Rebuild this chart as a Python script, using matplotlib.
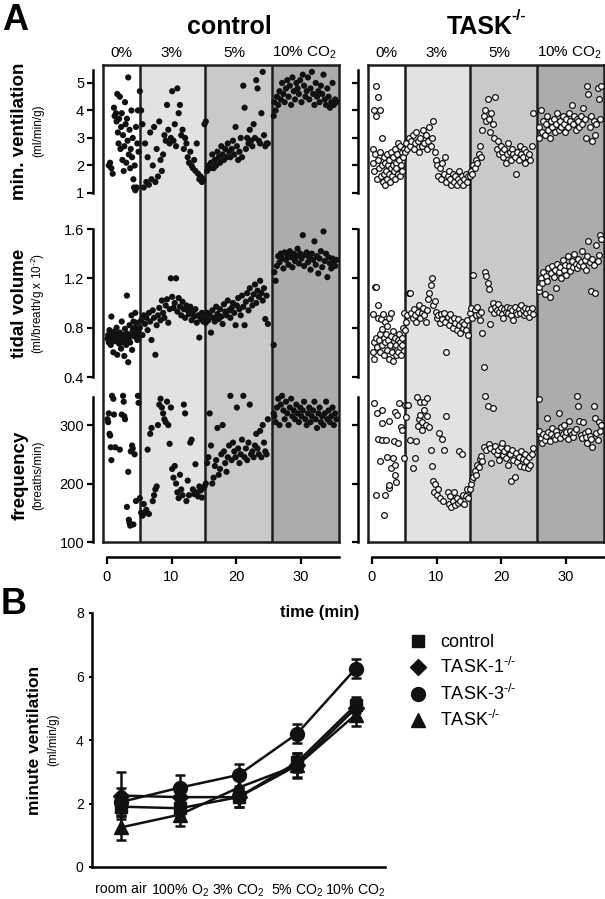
import numpy as np
import matplotlib
matplotlib.use("Agg")
import matplotlib.pyplot as plt
from matplotlib.lines import Line2D

plt.rcParams['font.family'] = ['Liberation Sans', 'DejaVu Sans']
plt.rcParams['mathtext.fontset'] = 'custom'
plt.rcParams['mathtext.rm'] = 'Liberation Sans'
plt.rcParams['mathtext.it'] = 'Liberation Sans:italic'
plt.rcParams['mathtext.bf'] = 'Liberation Sans:bold'

# -----------------------------
# panel A data
# -----------------------------
phase_edges = [5.1, 15.2, 25.6]
phase_labels = ['0%', '3%', '5%', '10% CO$_2$']
phase_label_t = [2.3, 10.0, 19.7, 30.6]
time_ticks = [0, 10, 20, 30]

t_p0 = [0.1, 0.2, 0.3, 0.4, 0.5, 0.6, 0.7, 0.8, 0.9, 1.0, 1.1, 1.2, 1.3, 1.4, 1.5, 1.6, 1.7, 1.8, 1.9, 2.0,
        2.1, 2.2, 2.3, 2.4, 2.5, 2.6, 2.7, 2.8, 2.9, 3.0, 3.1, 3.2, 3.3, 3.4, 3.5, 3.6, 3.7, 3.8, 3.9, 4.0,
        4.1, 4.2, 4.3, 4.4, 4.5, 4.6, 4.7, 4.8, 4.9]
t_p3 = [5.1, 5.3, 5.5, 5.7, 5.9, 6.1, 6.3, 6.5, 6.7, 6.9, 7.1, 7.3, 7.5, 7.7, 7.9, 8.1, 8.3, 8.5, 8.7, 8.9,
        9.1, 9.3, 9.5, 9.7, 9.9, 10.1, 10.3, 10.5, 10.7, 10.9, 11.1, 11.3, 11.5, 11.7, 11.9, 12.1, 12.3, 12.5,
        12.7, 12.9, 13.1, 13.3, 13.5, 13.7, 13.9, 14.1, 14.3, 14.5, 14.7, 14.9]
t_p5 = [15.1, 15.3, 15.5, 15.7, 15.9, 16.1, 16.3, 16.5, 16.7, 16.9, 17.1, 17.3, 17.5, 17.7, 17.9, 18.1, 18.3,
        18.5, 18.7, 18.9, 19.1, 19.3, 19.5, 19.7, 19.9, 20.1, 20.3, 20.5, 20.7, 20.9, 21.1, 21.3, 21.5, 21.7,
        21.9, 22.1, 22.3, 22.5, 22.7, 22.9, 23.1, 23.3, 23.5, 23.7, 23.9, 24.1, 24.3, 24.5, 24.7, 24.9]
t_p10 = [25.8, 25.9, 26.1, 26.3, 26.5, 26.7, 26.9, 27.1, 27.3, 27.5, 27.7, 27.9, 28.1, 28.3, 28.5, 28.7, 28.9,
         29.1, 29.3, 29.5, 29.7, 29.9, 30.1, 30.3, 30.5, 30.7, 30.9, 31.1, 31.3, 31.5, 31.7, 31.9, 32.1, 32.3,
         32.5, 32.7, 32.9, 33.1, 33.3, 33.5, 33.7, 33.9, 34.1, 34.3, 34.5, 34.7, 34.9, 35.1, 35.3, 35.5]

# control: minute ventilation
ctrl_mv0_t = [0.3, 0.5, 0.7, 0.9, 1.1, 1.2, 1.4, 1.5, 1.6, 1.7, 1.8, 1.9, 2.0, 2.1, 2.2, 2.3, 2.4, 2.5, 2.6, 2.7,
              2.8, 2.9, 3.0, 3.1, 3.2, 3.3, 3.4, 3.5, 3.6, 3.7, 3.8, 3.9, 4.0, 4.1, 4.2, 4.3, 4.4, 4.5, 4.6, 4.7,
              4.8, 4.9]
ctrl_mv0 = [2.0, 2.1, 1.9, 1.7, 4.1, 3.8, 3.9, 3.6, 4.6, 3.2, 2.8, 3.7, 4.5, 2.6, 3.4, 3.9, 2.2, 3.1, 1.8, 2.7,
            4.3, 3.5, 2.1, 3.7, 2.9, 5.2, 2.4, 3.3, 1.9, 2.6, 4.0, 2.3, 3.0, 1.5, 1.2, 2.0, 1.1, 3.4, 1.2, 2.8,
            4.0, 2.5]
ctrl_mv3 = [4.7, 4.0, 3.5, 1.2, 2.8, 1.4, 2.3, 1.3, 3.2, 1.5, 2.0, 3.4, 1.4, 2.6, 1.6, 3.6, 2.2, 1.8, 2.4, 3.1,
            2.9, 4.2, 3.3, 2.8, 3.0, 4.7, 2.9, 3.5, 2.7, 4.8, 3.9, 4.2, 3.1, 3.3, 2.6, 3.0, 2.8, 2.3, 2.1, 2.5,
            2.0, 1.9, 2.2, 1.8, 2.8, 1.7, 1.5, 1.6, 1.4, 1.5]
ctrl_mv5 = [3.5, 3.6, 1.8, 2.0, 1.9, 2.1, 2.4, 1.9, 2.2, 2.0, 2.5, 2.3, 2.1, 2.7, 2.4, 2.2, 2.6, 2.3, 2.8, 2.5,
            2.3, 2.6, 2.9, 2.4, 3.4, 2.7, 2.2, 2.5, 3.0, 2.3, 4.9, 4.1, 2.6, 3.0, 2.8, 3.3, 2.9, 2.7, 3.5, 3.0,
            5.1, 4.8, 2.9, 2.8, 3.9, 5.4, 3.1, 2.7, 2.8, 2.8]
ctrl_mv10 = [3.8, 4.3, 4.0, 4.5, 4.2, 4.7, 4.4, 5.0, 4.6, 4.3, 4.8, 5.1, 4.5, 4.9, 4.2, 5.2, 4.7, 4.4, 5.0, 4.8,
             4.6, 5.1, 4.3, 5.3, 4.9, 4.5, 4.7, 5.2, 4.4, 4.8, 5.4, 4.6, 4.2, 5.0, 4.5, 4.7, 4.3, 4.9, 4.6, 5.3,
             4.4, 4.2, 4.8, 4.5, 4.1, 4.3, 5.0, 4.2, 4.4, 4.3]

# control: tidal volume
ctrl_tv0 = [0.71, 0.74, 0.68, 0.78, 0.72, 0.66, 0.89, 0.75, 0.70, 0.60, 0.73, 0.77, 0.69, 0.72, 0.80, 0.58, 0.71,
            0.74, 0.67, 0.76, 0.70, 0.63, 0.85, 0.72, 0.68, 0.74, 0.57, 0.79, 0.71, 0.66, 1.06, 0.75, 0.52, 0.70,
            0.82, 0.68, 0.74, 0.90, 0.62, 0.78, 0.85, 0.73, 0.80, 0.92, 0.76, 0.84, 0.70, 0.78, 0.74]
ctrl_tv3 = [0.80, 0.86, 0.74, 0.90, 0.83, 0.88, 0.78, 0.92, 0.85, 0.70, 0.94, 0.88, 0.58, 0.82, 0.90, 0.96, 0.86,
            1.02, 0.92, 0.88, 0.98, 1.03, 0.84, 0.95, 1.20, 1.05, 0.96, 1.00, 1.20, 0.93, 1.04, 0.97, 0.90, 1.01,
            0.95, 0.88, 0.98, 0.94, 0.91, 0.97, 0.86, 0.93, 0.89, 0.95, 0.84, 0.90, 0.72, 0.87, 0.92, 0.85]
ctrl_tv5 = [0.88, 0.84, 0.92, 0.86, 0.90, 0.76, 0.94, 0.88, 0.85, 0.97, 0.91, 0.87, 0.95, 0.89, 0.83, 0.99, 0.93,
            0.90, 1.02, 0.94, 0.88, 0.96, 1.00, 0.92, 0.82, 0.98, 1.04, 0.95, 0.90, 1.06, 0.97, 0.82, 1.01, 1.08,
            0.94, 1.12, 1.03, 0.98, 1.07, 1.15, 1.00, 1.10, 1.05, 1.18, 1.08, 1.02, 1.12, 0.87, 1.06, 0.83]
ctrl_tv10 = [0.66, 1.25, 1.18, 1.30, 1.38, 1.33, 1.40, 1.36, 1.28, 1.41, 1.35, 1.39, 1.31, 1.42, 1.37, 1.29, 1.40,
             1.34, 1.38, 1.44, 1.32, 1.40, 1.36, 1.55, 1.30, 1.39, 1.41, 1.33, 1.37, 1.27, 1.40, 1.35, 1.50, 1.31,
             1.38, 1.24, 1.36, 1.42, 1.29, 1.58, 1.34, 1.40, 1.21, 1.37, 1.32, 1.28, 1.36, 1.33, 1.30, 1.35]

# control: frequency
ctrl_f0_t = [0.1, 0.2, 0.3, 0.4, 0.5, 0.6, 0.7, 0.8, 1.0, 1.1, 1.3, 2.0, 2.3, 2.5, 2.6, 2.7, 2.8, 3.1, 3.3, 3.4,
             3.5, 3.6, 3.7, 3.9, 4.0, 4.1, 4.3, 4.5, 4.8, 4.9]
ctrl_f0 = [310, 305, 320, 285, 282, 262, 240, 350, 345, 318, 262, 258, 318, 350, 340, 315, 310, 160, 220, 138,
           133, 128, 255, 265, 260, 130, 250, 170, 350, 338]
ctrl_f3 = [175, 150, 145, 165, 150, 155, 258, 148, 285, 295, 170, 180, 190, 195, 300, 335, 345, 330, 320, 310,
           305, 340, 300, 268, 330, 225, 210, 230, 200, 185, 175, 215, 190, 180, 335, 320, 170, 205, 180, 270,
           275, 190, 182, 233, 185, 178, 195, 188, 176, 192]
ctrl_f5 = [195, 200, 235, 245, 320, 265, 200, 210, 230, 240, 295, 215, 225, 250, 300, 255, 235, 220, 245, 265,
           350, 240, 270, 255, 245, 330, 260, 235, 250, 275, 350, 245, 260, 240, 270, 335, 250, 255, 245, 265,
           285, 260, 250, 290, 245, 300, 270, 255, 250, 310]
ctrl_f10 = [320, 315, 305, 330, 345, 300, 335, 350, 325, 310, 340, 320, 300, 330, 345, 315, 325, 310, 335, 320,
            305, 330, 315, 325, 340, 310, 300, 320, 330, 305, 315, 325, 340, 310, 295, 320, 330, 305, 315, 300,
            320, 340, 310, 325, 305, 315, 330, 300, 320, 310]

# TASK-/-: minute ventilation
task_mv0 = [2.6, 2.1, 4.0, 1.8, 2.4, 4.9, 3.8, 1.5, 2.2, 4.5, 1.9, 4.0, 2.5, 1.6, 3.0, 2.0, 1.4, 2.3, 1.7, 2.1,
            1.3, 1.8, 2.4, 1.5, 2.0, 1.7, 2.2, 1.4, 1.9, 2.5, 1.6, 2.0, 2.3, 1.8, 2.6, 1.5, 2.1, 1.9, 2.4, 1.7,
            2.8, 2.2, 1.6, 2.7, 2.0, 2.5, 1.8, 2.3, 2.6]
task_mv3 = [2.5, 2.8, 2.6, 3.0, 2.7, 2.9, 3.1, 2.6, 2.8, 3.2, 2.9, 2.5, 3.0, 2.7, 3.3, 2.8, 3.1, 2.6, 2.9, 3.4,
            2.7, 3.0, 3.6, 2.5, 2.2, 2.0, 1.6, 1.9, 1.5, 2.1, 1.7, 2.3, 1.4, 1.6, 1.8, 1.5, 1.3, 1.7, 1.4, 1.6,
            1.3, 1.5, 1.8, 1.4, 1.6, 1.3, 1.5, 1.7, 1.4, 1.6]
task_mv5 = [1.6, 1.8, 1.7, 2.0, 1.9, 2.2, 2.1, 2.4, 2.7, 2.3, 3.3, 3.8, 4.0, 3.6, 4.4, 3.7, 3.2, 3.9, 3.5, 3.0,
            4.5, 2.6, 2.9, 2.4, 2.7, 2.5, 2.3, 2.6, 2.1, 2.4, 2.8, 2.5, 2.2, 2.6, 2.4, 2.3, 1.7, 2.5, 2.2, 2.7,
            2.4, 2.3, 2.6, 2.1, 2.5, 2.3, 2.4, 2.2, 2.7, 3.9]
task_mv10 = [3.0, 3.4, 4.0, 3.2, 3.6, 3.1, 3.5, 3.8, 3.3, 3.0, 3.6, 3.4, 3.7, 3.2, 3.5, 3.9, 3.3, 3.6, 3.4, 3.8,
             3.5, 3.2, 3.7, 3.4, 3.9, 3.6, 4.2, 3.5, 3.8, 3.3, 3.7, 3.6, 3.4, 3.8, 3.5, 4.1, 3.7, 3.0, 4.9, 4.6,
             3.4, 3.8, 2.9, 3.6, 3.1, 3.5, 4.8, 4.4, 3.7, 4.9]

# TASK-/-: tidal volume
task_tv0 = [0.60, 0.91, 0.68, 0.55, 1.13, 0.72, 1.13, 0.64, 0.98, 0.88, 0.70, 0.75, 0.60, 0.87, 0.66, 0.79, 0.91,
            0.72, 0.58, 0.85, 0.68, 0.75, 0.62, 0.81, 0.70, 0.55, 0.88, 0.66, 0.73, 0.92, 0.60, 0.77, 0.53, 0.69,
            0.64, 0.72, 0.58, 0.66, 0.62, 0.70, 0.60, 0.75, 0.64, 0.68, 0.58, 0.72, 0.66, 0.80, 0.92]
task_tv3 = [0.78, 0.85, 0.90, 1.08, 1.08, 0.92, 0.88, 0.95, 0.90, 0.85, 0.93, 0.98, 0.88, 0.92, 0.96, 0.90, 0.85,
            0.94, 1.03, 1.08, 1.15, 1.20, 0.98, 1.02, 0.93, 0.88, 0.90, 0.84, 0.91, 0.87, 0.92, 0.85, 0.60, 0.89,
            0.82, 0.91, 0.86, 0.80, 0.88, 0.84, 0.78, 0.87, 0.82, 0.76, 0.85, 0.80, 0.83, 0.78, 0.86, 0.74]
task_tv5 = [0.92, 0.96, 0.88, 1.23, 0.94, 0.90, 0.97, 0.91, 0.86, 0.93, 0.76, 0.48, 1.25, 1.22, 1.16, 1.11, 0.83,
            0.95, 1.00, 0.92, 0.97, 0.94, 0.99, 0.93, 0.96, 0.91, 0.88, 0.95, 0.93, 0.97, 0.92, 0.96, 0.90, 0.94,
            0.86, 0.97, 0.93, 0.91, 0.95, 0.92, 0.98, 0.94, 0.90, 0.96, 0.92, 0.95, 0.89, 0.93, 0.96, 0.91]
task_tv10 = [1.10, 1.13, 1.20, 1.16, 1.25, 1.07, 1.22, 1.18, 1.28, 1.05, 1.24, 1.30, 1.21, 1.27, 1.12, 1.32, 1.25,
             1.29, 1.20, 1.35, 1.27, 1.31, 1.23, 1.38, 1.30, 1.26, 1.34, 1.29, 1.40, 1.32, 1.28, 1.36, 1.31, 1.33,
             1.42, 1.30, 1.35, 1.27, 1.38, 1.50, 1.33, 1.10, 1.36, 1.31, 1.08, 1.47, 1.34, 1.39, 1.55, 1.52]

# TASK-/-: frequency
task_f0_t = [0.3, 0.6, 0.8, 1.0, 1.2, 1.5, 1.5, 1.6, 1.9, 2.1, 2.2, 2.4, 2.6, 2.6, 2.7, 3.0, 3.2, 3.4, 3.5, 3.5,
             3.6, 3.7, 3.9, 4.1, 4.2, 4.5, 4.6, 4.9]
task_f0 = [338, 181, 321, 277, 239, 325, 304, 275, 147, 180, 274, 246, 307, 193, 197, 226, 244, 272, 323, 231,
           215, 202, 317, 270, 337, 297, 292, 244]
task_f3_t = [5.1, 5.2, 5.4, 5.6, 5.9, 6.3, 6.6, 6.8, 7.0, 7.1, 7.3, 7.4, 7.5, 7.7, 7.8, 8.0, 8.1, 8.3, 8.5, 8.6,
             8.8, 9.2, 9.3, 9.4, 9.6, 9.8, 10.0, 10.2, 10.4, 10.6, 10.8, 11.0, 11.2, 11.5, 11.7, 11.9, 12.1, 12.3,
             12.5, 12.7, 12.9, 13.1, 13.3, 13.5, 13.7, 13.9, 14.1, 14.3, 14.5, 14.7, 14.9]
task_f3 = [334, 314, 334, 334, 275, 227, 244, 272, 348, 298, 310, 340, 318, 305, 292, 340, 325, 300, 315, 346,
           296, 258, 230, 205, 185, 200, 180, 190, 286, 175, 277, 170, 258, 316, 185, 165, 178, 160, 170, 185,
           163, 175, 167, 255, 170, 250, 180, 165, 178, 190, 175]
task_f5 = [190, 200, 207, 212, 222, 215, 231, 228, 242, 247, 238, 262, 349, 258, 333, 268, 260, 235, 330, 255,
           265, 250, 258, 240, 262, 270, 248, 255, 244, 260, 232, 250, 205, 257, 240, 212, 252, 236, 246, 230,
           255, 242, 228, 250, 238, 226, 245, 232, 250, 260]
task_f10 = [290, 345, 278, 270, 285, 275, 282, 312, 288, 272, 285, 295, 280, 276, 290, 283, 320, 278, 296, 285,
            300, 281, 288, 276, 307, 290, 284, 279, 288, 294, 349, 333, 307, 283, 278, 305, 286, 280, 270, 290,
            282, 276, 263, 333, 312, 287, 275, 305, 290, 300]

# -----------------------------
# panel B data
# -----------------------------
conditions = ['room air', '100% O$_2$', '3% CO$_2$', '5% CO$_2$', '10% CO$_2$']
genotypes = [r'control', r'TASK-1$^{\text{-/-}}$', r'TASK-3$^{\text{-/-}}$', r'TASK$^{\text{-/-}}$']
markers = ['s', 'D', 'o', '^']
mv_control = [1.90, 1.85, 2.20, 3.30, 5.10]
mv_task1 = [2.25, 2.20, 2.20, 3.20, 5.00]
mv_task3 = [2.05, 2.50, 2.90, 4.20, 6.25]
mv_task = [1.25, 1.65, 2.50, 3.20, 4.80]
err_control = [0.30, 0.25, 0.30, 0.30, 0.25]
err_task1 = [0.75, 0.30, 0.30, 0.40, 0.30]
err_task3 = [0.45, 0.40, 0.35, 0.30, 0.30]
err_task = [0.40, 0.35, 0.30, 0.35, 0.35]

# -----------------------------
# layout helpers (pixel positions in a 605x899 figure)
# -----------------------------
W, H = 605.0, 899.0
fig = plt.figure(figsize=(6.05, 8.99), dpi=100)


def add_px_axes(x0, y0, x1, y1):
    return fig.add_axes([x0 / W, 1 - y1 / H, (x1 - x0) / W, (y1 - y0) / H])


def ftext(x, y, s, **kw):
    return fig.text(x / W, 1 - y / H, s, **kw)


shades = ['#ffffff', '#e2e2e2', '#c9c9c9', '#acacac']
xlim = (-0.6, 35.9)
rows = [  # (top px, bottom px, ylim, yticks)
    (70, 193, (1, 5.47), [1, 2, 3, 4, 5]),
    (229, 377, (0.4, 1.6), [0.4, 0.8, 1.2, 1.6]),
    (397, 542, (100, 348), [100, 200, 300]),
]

t_all = [t_p0, t_p3, t_p5, t_p10]
ctrl_rows = [
    ([ctrl_mv0_t, t_p3, t_p5, t_p10], [ctrl_mv0, ctrl_mv3, ctrl_mv5, ctrl_mv10]),
    (t_all, [ctrl_tv0, ctrl_tv3, ctrl_tv5, ctrl_tv10]),
    ([ctrl_f0_t, t_p3, t_p5, t_p10], [ctrl_f0, ctrl_f3, ctrl_f5, ctrl_f10]),
]
task_rows = [
    (t_all, [task_mv0, task_mv3, task_mv5, task_mv10]),
    (t_all, [task_tv0, task_tv3, task_tv5, task_tv10]),
    ([task_f0_t, task_f3_t, t_p5, t_p10], [task_f0, task_f3, task_f5, task_f10]),
]

columns = [
    (103, 339, ctrl_rows, True),
    (368, 604, task_rows, False),
]

for x0, x1, data_rows, filled in columns:
    # shaded background box
    bg = add_px_axes(x0, 65, x1, 542)
    edges = [xlim[0]] + phase_edges + [xlim[1]]
    for i in range(4):
        bg.axvspan(edges[i], edges[i + 1], color=shades[i], lw=0)
    for e in phase_edges:
        bg.axvline(e, color='#1e1e1e', lw=1.8)
    bg.set_xlim(xlim)
    bg.set_ylim(0, 1)
    bg.set_xticks([])
    bg.set_yticks([])
    for sp in bg.spines.values():
        sp.set_linewidth(1.8)
        sp.set_color('#1e1e1e')

    for i, lab in enumerate(phase_labels):
        bg.text(phase_label_t[i], 1 + 12 / 477, lab, ha='center', va='center', fontsize=11,
                transform=bg.get_xaxis_transform())

    for r, (top, bot, ylim, yticks) in enumerate(rows):
        ax = add_px_axes(x0, top, x1, bot)
        ax.patch.set_alpha(0)
        ts, ys = data_rows[r]
        for tt, yy in zip(ts, ys):
            if filled:
                ax.scatter(tt, yy, s=20, color='#111111', edgecolors='none', clip_on=False, zorder=3)
            else:
                ax.scatter(tt, yy, s=17, facecolors='white', edgecolors='#111111', linewidths=0.9,
                           clip_on=False, zorder=3)
        ax.set_xlim(xlim)
        ax.set_ylim(ylim)
        for side in ['top', 'right', 'bottom']:
            ax.spines[side].set_visible(False)
        ax.spines['left'].set_position(('outward', 7.5))
        ax.spines['left'].set_linewidth(1.8)
        ax.set_yticks(yticks)
        ax.tick_params(axis='y', length=4, width=1.6, labelsize=10.5, pad=2)
        if not filled:
            ax.set_yticklabels([])
        if r == 2:
            ax.spines['bottom'].set_visible(True)
            ax.spines['bottom'].set_position(('outward', 11))
            ax.spines['bottom'].set_linewidth(1.8)
            ax.spines['bottom'].set_bounds(0, xlim[1])
            ax.set_xticks(time_ticks)
            ax.tick_params(axis='x', length=5, width=1.6, labelsize=10.5, pad=4)
        else:
            ax.set_xticks([])

# column titles
ftext(229, 27, 'control', ha='center', va='center', fontsize=18, fontweight='bold')
ftext(480, 27, 'TASK', ha='center', va='center', fontsize=18, fontweight='bold')
ftext(511, 16, '-/-', ha='left', va='center', fontsize=11, fontweight='bold')

# row labels
ftext(20, 131, 'min. ventilation', rotation=90, ha='center', va='center', fontsize=13.5, fontweight='bold')
ftext(38, 131, '(ml/min/g)', rotation=90, ha='center', va='center', fontsize=8.5)
ftext(20, 303, 'tidal volume', rotation=90, ha='center', va='center', fontsize=13.5, fontweight='bold')
ftext(38, 303, r'(ml/breath/g x 10$^{\text{-2}}$)', rotation=90, ha='center', va='center', fontsize=8.5)
ftext(20, 475, 'frequency', rotation=90, ha='center', va='center', fontsize=13.5, fontweight='bold')
ftext(38, 475, '(breaths/min)', rotation=90, ha='center', va='center', fontsize=8.5)
ftext(320, 612, 'time (min)', ha='center', va='center', fontsize=12, fontweight='bold')

ftext(15, 20, 'A', ha='center', va='center', fontsize=26, fontweight='bold')
ftext(14, 604, 'B', ha='center', va='center', fontsize=26, fontweight='bold')

# -----------------------------
# panel B
# -----------------------------
axb = add_px_axes(92, 613, 385, 867)
x = np.arange(len(conditions))
series = [mv_control, mv_task1, mv_task3, mv_task]
errs = [err_control, err_task1, err_task3, err_task]
msizes = [9, 8.5, 10, 10]
for vals, err, m, ms in zip(series, errs, markers, msizes):
    axb.errorbar(x, vals, yerr=err, marker=m, markersize=ms, color='#111111', lw=1.8,
                 elinewidth=1.8, capsize=3.5, capthick=1.8, clip_on=False)
axb.set_xlim(-0.5, 4.5)
axb.set_ylim(0, 8)
axb.set_yticks([0, 2, 4, 6, 8])
axb.set_xticks(x)
axb.set_xticklabels(conditions, fontsize=10.2)
axb.tick_params(axis='x', length=0, pad=11)
axb.tick_params(axis='y', length=2, width=1.5, labelsize=10, pad=4)
for side in ['top', 'right']:
    axb.spines[side].set_visible(False)
for side in ['left', 'bottom']:
    axb.spines[side].set_linewidth(1.8)

ftext(35, 740, 'minute ventilation', rotation=90, ha='center', va='center', fontsize=12.5, fontweight='bold')
ftext(53, 740, '(ml/min/g)', rotation=90, ha='center', va='center', fontsize=8.5)

handles = [Line2D([], [], marker=m, color='#111111', ls='none', markersize=ms) for m, ms in zip(markers, msizes)]
fig.legend(handles, genotypes, loc='upper left', bbox_to_anchor=(395 / W, 1 - 625 / H), frameon=False,
           fontsize=13, handletextpad=0.5, labelspacing=0.35, handlelength=1.5, borderpad=0)

fig.savefig('out.png', dpi=100)
